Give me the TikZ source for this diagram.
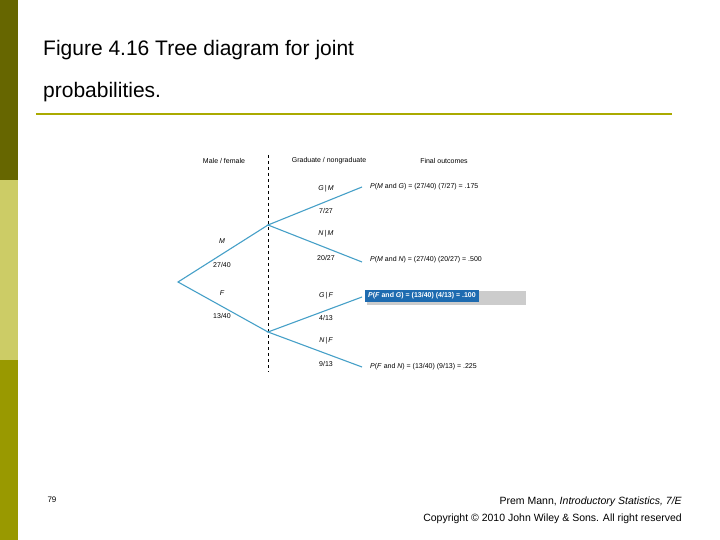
\documentclass[tikz,border=0pt]{standalone}
\usepackage{fontspec}
\setmainfont{Liberation Sans}
\definecolor{barA}{RGB}{102,102,0}
\definecolor{barB}{RGB}{204,204,102}
\definecolor{barC}{RGB}{153,153,0}
\definecolor{rule}{RGB}{170,170,0}
\definecolor{edgec}{RGB}{70,160,200}
\definecolor{hl}{RGB}{30,107,176}
\begin{document}
\begin{tikzpicture}[x=1pt,y=-1pt,
  lbl/.style={font=\fontsize{7}{8}\selectfont,inner sep=0},
  ital/.style={font=\fontsize{7}{8}\selectfont\itshape\rmfamily,inner sep=0},
  outtxt/.style={font=\fontsize{7}{8}\selectfont,anchor=west,inner sep=0},
  edge/.style={draw=edgec,line width=1.1pt}]
\useasboundingbox (0,0) rectangle (720,540);
\fill[white] (0,0) rectangle (720,540);
\fill[barA] (0,0) rectangle (18,180);
\fill[barB] (0,180) rectangle (18,360);
\fill[barC] (0,360) rectangle (18,540);
\node[anchor=west,inner sep=0,font=\fontsize{21}{26}\selectfont] (t1) at (43,50) {Figure 4.16 Tree diagram for joint};
\node[anchor=west,inner sep=0,font=\fontsize{21}{26}\selectfont] (t2) at (43,92) {probabilities.};
\draw[rule,line width=2.5pt] (36,114) -- (672,114);
\draw[dashed] (268,155) -- (268,372);
\node[lbl] (h1) at (224,161) {Male / female};
\node[lbl] (h2) at (329,161) {Graduate / nongraduate};
\node[lbl] (h3) at (444,161) {Final outcomes};
\coordinate (r) at (178,282);
\coordinate (m) at (268,225);
\coordinate (f) at (268,332);
\coordinate (mg) at (362,187);
\coordinate (mn) at (362,262);
\coordinate (fg) at (362,297);
\coordinate (fn) at (362,367);
\draw[edge] (m) -- (r) -- (f);
\draw[edge] (mg) -- (m) -- (mn);
\draw[edge] (fg) -- (f) -- (fn);
\node[ital] (lm) at (222,241) {M};
\node[lbl] (lm2) at (222,265) {27/40};
\node[ital] (lf) at (222,293) {F};
\node[lbl] (lf2) at (222,316) {13/40};
\node[ital] (a1) at (326,189) {G\,|\,M};
\node[lbl] (a2) at (326,211) {7/27};
\node[ital] (b1) at (326,234) {N\,|\,M};
\node[lbl] (b2) at (326,258) {20/27};
\node[ital] (c1) at (326,296) {G\,|\,F};
\node[lbl] (c2) at (326,318) {4/13};
\node[ital] (d1) at (326,341) {N\,|\,F};
\node[lbl] (d2) at (326,364) {9/13};
\node[outtxt] (o1) at (370,187) {\textit{P}(\textit{M} and \textit{G}) = (27/40) (7/27) = .175};
\node[outtxt] (o2) at (370,260) {\textit{P}(\textit{M} and \textit{N}) = (27/40) (20/27) = .500};
\fill[gray!40] (367,291) rectangle (526,305);
\node[outtxt,fill=hl,text=white,inner xsep=3pt,inner ysep=3pt,font=\fontsize{7}{8}\selectfont\bfseries] (o3) at (365,296) {\textit{P}(\textit{F} and \textit{G}) = (13/40) (4/13) = .100};
\node[outtxt] (o4) at (370,367) {\textit{P}(\textit{F} and \textit{N}) = (13/40) (9/13) = .225};
\node[inner sep=0,font=\fontsize{8}{9}\selectfont] (pg) at (52,500) {79};
\node[anchor=east,inner sep=0,font=\fontsize{10.5}{12}\selectfont] (f1) at (682,502) {Prem Mann, \textit{Introductory Statistics, 7/E}};
\node[anchor=east,inner sep=0,font=\fontsize{10.5}{12}\selectfont] (f2) at (682,519) {Copyright © 2010 John Wiley \& Sons. All right reserved};
\end{tikzpicture}
\end{document}
